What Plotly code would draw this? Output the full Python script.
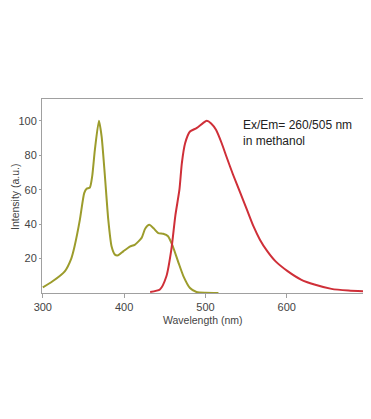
import plotly.graph_objects as go

ex_wavelength = [300, 312, 327, 335, 339, 345.6, 350.9, 353.8, 357.9, 360.7, 364, 369, 372.3, 376.4, 380.5, 384.6, 388.7, 392.7, 398.9, 407, 413, 421.5, 426, 431, 436, 442, 448, 454, 460, 467, 473, 481, 489, 500, 516]
ex_intensity = [3.3, 6.8, 12.6, 20, 27, 42.6, 58, 60.6, 61.3, 67.7, 83, 100, 91, 67.7, 42.6, 27, 22.3, 21.9, 24.2, 27, 28, 32, 37.5, 39.6, 37.7, 34.8, 34.4, 33, 27, 17.4, 9.7, 2.9, 0.6, 0.1, 0.0]

em_wavelength = [432, 444, 452, 458, 463, 468, 471, 475, 481, 489, 497, 501.6, 507, 513, 520, 526, 534, 543, 551, 559, 567, 576, 586, 601, 617.5, 634, 655, 676, 697]
em_intensity = [0.6, 2, 9.7, 25, 45, 60, 75.5, 87, 93.8, 95.8, 98.7, 100, 98.5, 94.8, 87, 79, 68.7, 58, 48.4, 38.8, 31, 24.3, 18.5, 12.7, 7.8, 4.9, 2.4, 1.4, 0.9]

x_ticks = [300, 400, 500, 600]
y_ticks = [20, 40, 60, 80, 100]

FONT = "Liberation Sans, Arial"

fig = go.Figure()
fig.add_trace(go.Scatter(x=ex_wavelength, y=ex_intensity, mode="lines",
                         line=dict(color="#9c9c2c", width=2, shape="spline", smoothing=0.6),
                         showlegend=False))
fig.add_trace(go.Scatter(x=em_wavelength, y=em_intensity, mode="lines",
                         line=dict(color="#cf2f38", width=2, shape="spline", smoothing=0.6),
                         showlegend=False))

fig.add_annotation(x=(241 - 42) / 322, y=(293 - 116) / 194, xref="paper", yref="paper",
                   xanchor="left", yanchor="top",
                   text="Ex/Em= 260/505 nm<br>in methanol", showarrow=False, align="left",
                   font=dict(family=FONT, size=12, color="#222"))

fig.add_annotation(x=0.5, y=-(320 - 293) / 194, xref="paper", yref="paper",
                   xanchor="center", yanchor="middle", showarrow=False,
                   text="Wavelength (nm)", font=dict(family=FONT, size=10.5, color="#444"))
fig.add_annotation(x=-(34 - 7) / 322, y=0.5, xref="paper", yref="paper",
                   xanchor="center", yanchor="middle", showarrow=False, textangle=-90,
                   text="Intensity (a.u.)", font=dict(family=FONT, size=10.5, color="#444"))

axis_common = dict(showgrid=False, zeroline=False, showline=True, linecolor="#a0a0a0",
                   linewidth=1, mirror=True, ticks="outside", tickcolor="#a0a0a0",
                   automargin=False,
                   tickfont=dict(family=FONT, size=11, color="#444"))

fig.update_layout(
    width=363, height=411,
    margin=dict(l=34, r=7, t=91, b=126),
    paper_bgcolor="white", plot_bgcolor="white",
    xaxis=dict(range=[299, 695], tickvals=x_ticks, ticklen=4, **axis_common),
    yaxis=dict(range=[0, 112.7], tickvals=y_ticks, ticklen=2, **axis_common),
)

fig.write_html("out.html")
